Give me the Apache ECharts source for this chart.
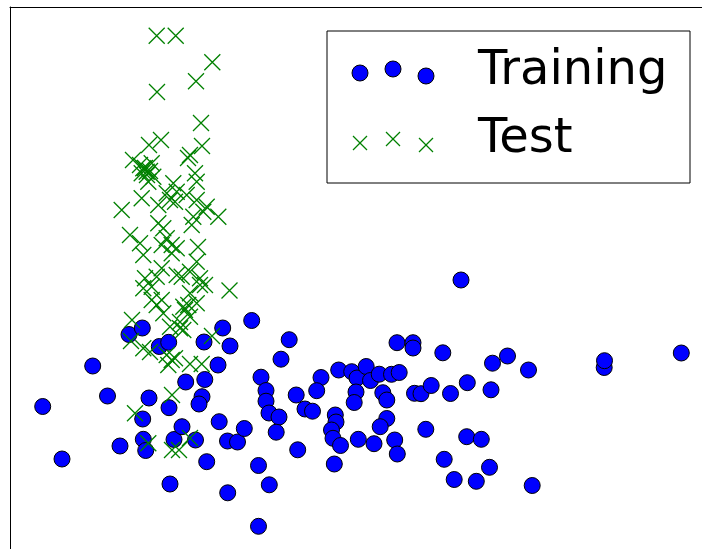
<!DOCTYPE html>
<html>
<head>
<meta charset="utf-8">
<script src="https://cdn.jsdelivr.net/npm/echarts@6/dist/echarts.min.js"></script>
<style>
  html, body { margin: 0; padding: 0; background: #fff; }
  #chart { width: 702px; height: 549px; }
</style>
</head>
<body>
<div id="chart"></div>
<script>
// Two projected feature coordinates per sample
const trainX = [0.327,0.52,0.827,0.975,1.10,1.19,1.323,1.39,1.327,1.333,1.357,1.493,1.587,1.59,1.60,1.64,1.72,1.757,1.855,1.92,1.89,1.948,1.94,1.967,2.08,2.092,2.127,2.20,2.177,2.175,2.275,2.343,2.417,2.792,2.71,2.51,2.56,2.56,2.59,2.69,2.662,2.862,2.95,3.025,3.11,3.067,3.287,3.417,3.47,3.562,3.605,3.692,3.815,3.892,3.46,3.442,3.728,3.768,3.87,4.03,4.03,4.328,4.045,4.11,4.212,4.405,3.253,3.26,3.215,3.23,3.305,3.483,3.64,3.768,3.702,3.847,3.873,4.158,2.877,3.243,2.485,2.593,2.485,4.342,4.442,4.51,4.825,4.975,5.185,4.573,4.81,4.567,4.713,4.795,4.663,5.222,5.942,5.945,6.713];
const trainY = [1.605,1.08,2.01,1.71,1.21,2.325,2.39,1.69,1.48,1.277,1.165,2.205,2.247,1.593,0.83,1.275,1.403,1.85,1.27,1.703,1.63,1.875,2.25,1.053,2.02,1.453,2.39,2.21,0.742,1.26,1.25,1.385,2.465,2.273,2.078,1.898,1.765,1.658,1.54,1.50,1.348,1.72,1.58,1.558,1.895,1.763,1.97,1.953,1.89,2.005,1.865,1.928,1.927,1.945,1.75,1.645,1.743,1.67,2.243,2.243,2.19,2.142,1.737,1.733,1.815,1.735,1.52,1.45,1.37,1.287,1.215,1.277,1.233,1.485,1.403,1.27,1.13,1.377,1.172,1.03,1.015,0.822,0.407,1.077,0.875,2.87,2.038,2.11,1.97,1.843,1.772,1.303,1.277,0.997,0.857,0.815,1.995,2.063,2.14];
const testX = [1.467,1.657,2.023,1.86,1.47,1.91,1.51,1.39,1.92,1.80,1.78,1.23,1.30,1.417,1.333,1.367,1.317,1.433,1.383,1.85,1.867,1.633,1.567,1.667,1.317,1.117,1.483,1.60,1.65,1.767,1.867,1.967,1.933,2.083,1.833,1.817,1.483,1.533,1.20,1.567,1.617,1.30,1.88,1.333,1.517,1.617,1.667,1.867,1.35,1.417,1.467,1.517,1.717,1.80,1.90,1.90,2.195,1.333,1.417,1.517,1.467,1.533,1.733,1.783,1.75,1.80,1.867,1.80,1.95,1.667,1.70,1.60,1.70,1.733,1.22,1.21,1.40,1.333,2.02,1.567,1.617,1.583,1.65,1.80,1.917,1.62,1.25,1.383,1.62,1.69,1.80,1.35,1.37,1.40];
const testY = [5.313,5.313,5.047,4.857,4.75,4.44,4.27,4.22,4.21,4.12,4.09,4.07,4.02,4.037,3.987,3.953,3.937,3.903,3.853,3.937,3.853,3.837,3.737,3.753,3.687,3.57,3.62,3.67,3.653,3.72,3.67,3.603,3.553,3.503,3.503,3.42,3.437,3.387,3.32,3.287,3.22,3.237,3.20,3.12,3.22,3.137,3.187,3.053,2.887,2.803,2.903,2.987,2.903,2.953,2.887,2.82,2.765,2.787,2.67,2.67,2.62,2.537,2.603,2.62,2.57,2.503,2.637,2.737,2.82,2.92,2.45,2.403,2.387,2.37,2.47,2.26,2.15,2.187,2.31,2.12,2.07,2.02,2.087,2.03,2.03,1.72,1.537,1.237,1.17,1.17,1.29,3.99,3.92,3.96];
const seriesNames = ['Training', 'Test'];

const zip = (xs, ys) => xs.map((x, i) => [x, ys[i]]);
const crossPath = 'path://M0,0L10,10M10,0L0,10';

const chart = echarts.init(document.getElementById('chart'), null, { renderer: 'canvas' });

// Legend box drawn by hand so each entry shows three scattered markers
const legendFont = '48px "DejaVu Sans"';
const circ = (cx, cy) => ({
  type: 'circle', shape: { cx, cy, r: 8 },
  style: { fill: '#0000ff', stroke: '#000', lineWidth: 1 }, z: 101
});
const crossStroke = { stroke: '#008000', lineWidth: 1.2 };
const cross = (cx, cy) => ({
  type: 'group', z: 101,
  children: [
    { type: 'line', z: 101, shape: { x1: cx - 7, y1: cy - 7, x2: cx + 7, y2: cy + 7 }, style: crossStroke },
    { type: 'line', z: 101, shape: { x1: cx + 7, y1: cy - 7, x2: cx - 7, y2: cy + 7 }, style: crossStroke }
  ]
});

// The plot frame runs past the right and bottom edges of the window,
// so only its top and left sides are drawn (as axis lines).
const hiddenAxisParts = {
  axisTick: { show: false }, axisLabel: { show: false }, splitLine: { show: false },
  axisLine: { show: true, onZero: false, lineStyle: { color: '#000', width: 1 } }
};

chart.setOption({
  animation: false,
  backgroundColor: '#fff',
  grid: { left: 10, top: 7, right: 0, bottom: 0, show: false },
  xAxis: Object.assign({ type: 'value', position: 'top', min: 0, max: 6.92 }, hiddenAxisParts),
  yAxis: Object.assign({ type: 'value', position: 'left', min: 0.18, max: 5.6 }, hiddenAxisParts),
  series: [
    {
      name: seriesNames[0], type: 'scatter', symbol: 'circle', symbolSize: 16,
      itemStyle: { color: '#0000ff', borderColor: '#000', borderWidth: 1, opacity: 1 },
      data: zip(trainX, trainY), z: 2
    },
    {
      name: seriesNames[1], type: 'scatter', symbol: crossPath, symbolSize: 16,
      itemStyle: { color: 'none', borderColor: '#008000', borderWidth: 1.3, opacity: 1 },
      data: zip(testX, testY), z: 3
    }
  ],
  graphic: [
    {
      type: 'rect', z: 100,
      shape: { x: 327, y: 31, width: 363, height: 152 },
      style: { fill: '#fff', stroke: '#000', lineWidth: 1 }
    },
    circ(360, 73), circ(393, 69), circ(426, 76),
    cross(360, 143), cross(393, 139), cross(426, 145),
    {
      type: 'text', z: 101,
      style: { text: seriesNames[0], x: 478, y: 72, font: legendFont, fill: '#000', textVerticalAlign: 'middle' }
    },
    {
      type: 'text', z: 101,
      style: { text: seriesNames[1], x: 478, y: 140, font: legendFont, fill: '#000', textVerticalAlign: 'middle' }
    }
  ]
});
</script>
</body>
</html>
